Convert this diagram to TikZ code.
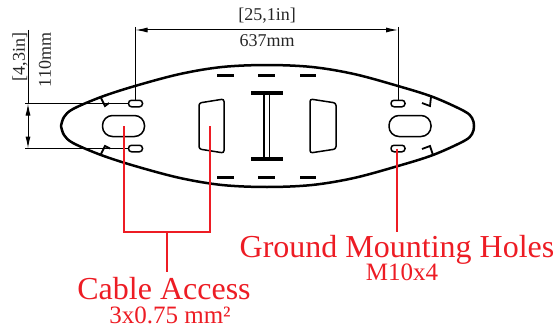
\documentclass[tikz,border=0pt]{standalone}
\usepackage{fontspec}
\setmainfont{Liberation Serif}
\usetikzlibrary{arrows.meta}
\definecolor{callred}{HTML}{ED1C24}
\tikzset{
  x=1pt,y=-1pt,
  outline/.style={line width=2.5pt,black,line join=round},
  hole/.style={line width=1.5pt,black,rounded corners=2.5pt},
  dimline/.style={line width=1pt,black},
  dimarrow/.style={line width=1pt,black,{Latex[length=12pt,width=5pt]}-{Latex[length=12pt,width=5pt]}},
  dash bar/.style={line width=3pt,black},
  red line/.style={line width=2pt,callred},
  dimtext/.style={inner sep=0pt,font=\fontsize{18}{18}\selectfont,text=black!85},
  bigtext/.style={inner sep=0pt,anchor=base,text=callred,font=\fontsize{32}{32}\selectfont},
  smalltext/.style={inner sep=0pt,anchor=base,text=callred,font=\fontsize{25}{25}\selectfont},
  slot/.style={draw,line width=1.5pt,rounded corners=#1,inner sep=0pt},
}
\begin{document}
\begin{tikzpicture}
\useasboundingbox (0,0) rectangle (556,329);
% body outline
\draw[outline] plot[smooth,tension=.55] coordinates {
 (61,126) (64,117) (73,109) (101,97) (135,86) (180,74) (222,67) (267,65) (312,67) (354,74) (398,86) (433,97) (464,111) (472,118) (474,126)
 (472,134) (464,141) (433,155) (398,166) (354,178) (312,185) (267,187) (222,185) (180,178) (135,166) (101,155) (73,143) (64,135) (61,126)};
% slots
\node[slot=10pt,draw,minimum width=42pt,minimum height=21pt] (bigL) at (123.5,126) {};
\node[slot=10pt,draw,minimum width=42pt,minimum height=21pt] (bigR) at (410,126) {};
\node[slot=3pt,minimum width=14pt,minimum height=6.5pt] (sLT) at (135.5,103.5) {};
\node[slot=3pt,minimum width=14pt,minimum height=6.5pt] (sLB) at (135.5,148.5) {};
\node[slot=3pt,minimum width=14pt,minimum height=6.5pt] (sRT) at (398,103.5) {};
\node[slot=3pt,minimum width=14pt,minimum height=6.5pt] (sRB) at (398,148.5) {};
% cable cut-outs
\draw[hole] (199,103) -- (224,99) -- (224,153) -- (199,149) -- cycle;
\draw[hole] (336,103) -- (310,99) -- (310,153) -- (336,149) -- cycle;
% I-beam
\draw[line width=3.4pt] (251,93) -- (283,93);
\draw[line width=3.4pt] (251,159) -- (283,159);
\draw[line width=1.3pt] (264,93) -- (264,159) (269.5,93) -- (269.5,159);
% dashes
\foreach \a/\b in {217/234,258/275,300/316}{
  \draw[dash bar] (\a,75) -- (\b,75);
  \draw[dash bar] (\a,177) -- (\b,177);
}
% hooks
\draw[line width=1.8pt] (101,98) -- (105,106) -- (109,103);
\draw[line width=1.8pt] (101,154) -- (105,146) -- (110,148.5);
\draw[line width=1.8pt] (431,97) -- (430,106) -- (422,103);
\draw[line width=1.8pt] (433,155) -- (430,146) -- (422,149);
% dimensions
\coordinate (wL) at (135.5,30);
\coordinate (wR) at (398,30);
\coordinate (wLtop) at (135.5,27);
\coordinate (wRtop) at (398,27);
\coordinate (hT) at (28,103.5);
\coordinate (hB) at (28,148.5);
\coordinate (hTop) at (28,30);
\coordinate (hTl) at (25,103.5);
\coordinate (hBl) at (25,148.5);
\draw[dimline] (wLtop) -- (sLT.north);
\draw[dimline] (wRtop) -- (sRT.north);
\draw[dimarrow] (wL) -- (wR);
\draw[dimline] (hTop) -- (hT);
\draw[dimline] (hTl) -- (sLT.west);
\draw[dimline] (hBl) -- (sLB.west);
\draw[dimarrow] (hT) -- (hB);
\node[dimtext] (wIn) at (267,16) {[25,1in]};
\node[dimtext] (wMm) at (267,41) {637mm};
\node[dimtext,rotate=90] (hIn) at (20,57) {[4,3in]};
\node[dimtext,rotate=90] (hMm) at (45,60) {110mm};
% red callouts
\coordinate (c1) at (124,126);
\coordinate (c2) at (210,126);
\coordinate (c1b) at (124,232);
\coordinate (c2b) at (210,232);
\coordinate (cm) at (167,232);
\coordinate (ce) at (167,272);
\coordinate (g1) at (397,148.5);
\coordinate (g2) at (397,232);
\draw[red line,line join=miter] (c1) -- (c1b) -- (c2b) -- (c2);
\draw[red line] (cm) -- (ce);
\draw[red line] (g1) -- (g2);
\node[bigtext] (ground) at (397,257) {Ground Mounting Holes};
\node[smalltext] (m10) at (402,280) {M10x4};
\node[bigtext] (cable) at (164,299) {Cable Access};
\node[smalltext] (c3x) at (170,323) {3x0.75 mm²};
\end{tikzpicture}
\end{document}
